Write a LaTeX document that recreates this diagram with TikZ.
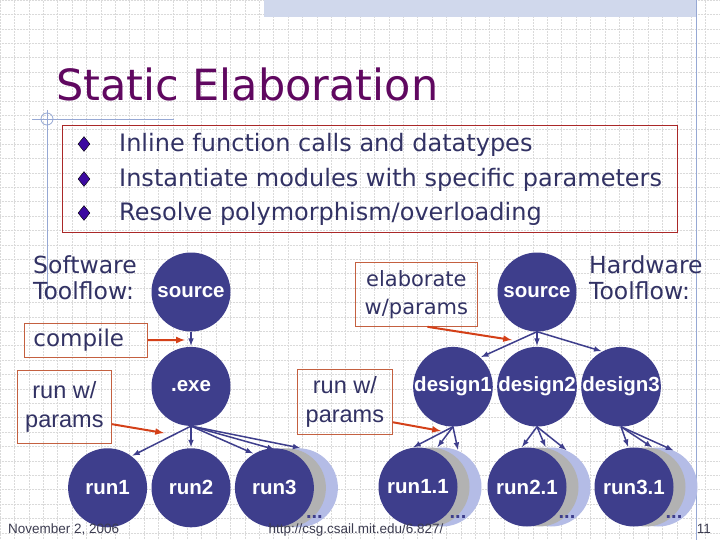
\documentclass[tikz,border=0pt]{standalone}
\usepackage{fontspec}
\setmainfont{DejaVu Sans}
\newfontfamily\arialfont{Liberation Sans}
\usepackage{xcolor}
\usetikzlibrary{arrows,shapes,positioning,backgrounds}

\definecolor{ballblue}{RGB}{62,62,140}
\definecolor{textblue}{RGB}{50,50,100}
\definecolor{titlepurple}{RGB}{96,8,96}
\definecolor{notebrown}{RGB}{196,96,64}
\definecolor{notered}{RGB}{170,40,40}
\definecolor{callout}{RGB}{212,64,24}
\definecolor{shgray}{RGB}{178,178,178}
\definecolor{shblue}{RGB}{180,188,230}
\definecolor{gridgray}{RGB}{218,218,218}
\definecolor{framebl}{RGB}{150,168,212}
\definecolor{bulletpurple}{RGB}{60,10,160}
\definecolor{footgray}{RGB}{60,60,80}

\begin{document}
\begin{tikzpicture}
          [x=1pt, y=-1pt, >=latex,
           every node/.style={inner sep=0pt},
           ball/.style={circle, fill=ballblue, minimum size=79pt, text=white,
             font=\arialfont\bfseries\fontsize{20.5}{21}\selectfont},
           ghost/.style={circle, minimum size=79pt},
           note/.style={draw=notebrown, line width=0.8pt, text=textblue},
           flow/.style={->, ballblue, line width=1.5pt, shorten >= 1pt},
           hint/.style={->, callout, line width=2pt},
           flowtxt/.style={text=textblue, align=left, font=\fontsize{23.5}{26}\selectfont},
           foot/.style={text=footgray, font=\arialfont\fontsize{13.5}{14}\selectfont}]
          \useasboundingbox (0,0) rectangle (720,540);

          \begin{scope}[on background layer]
            \fill[white] (0,0) rectangle (720,540);
            \draw[gridgray, densely dotted, line width=0.5pt, step=14.4pt] (0,540) grid (720,0);
            \fill[framebl!45] (264,0) rectangle (696,17);
            \draw[framebl, line width=0.8pt] (696,0) -- (696,540);
            \draw[framebl, line width=0.8pt] (32,119) -- (174,119) (47,110) -- (47,300);
            \draw[framebl, line width=0.8pt] (47,119) circle (6pt);
          \end{scope}

          \node[anchor=base west, text=titlepurple, font=\fontsize{43}{48}\selectfont] (title) at (56,101) {Static Elaboration};

          \node[draw=notered, line width=0.8pt, minimum width=615pt, minimum height=107pt, anchor=north west] (goals) at (62,125) {};
          \foreach \y/\txt [count=\i] in {152/{Inline function calls and datatypes},
                                          187/{Instantiate modules with specific parameters},
                                          221/{Resolve polymorphism/overloading}} {
            \node[diamond, draw=black, fill=bulletpurple, minimum width=12pt, minimum height=15pt] (dot\i) at (84,\y-8) {};
            \node[anchor=base west, text=textblue, font=\fontsize{24}{26}\selectfont] (goal\i) at (119,\y) {\txt};
          }

          % software toolflow
          \node[flowtxt, anchor=north west] (swflow) at (33,255) {Software\\Toolflow:};
          \node[ball] (src) at (191,292) {source};
          \node[ball, below=15pt of src] (exe) {.exe};
          \node[ball, below=22pt of exe] (run2) {run2};
          \node[ball, left=4pt of run2] (run1) {run1};
          \node[ball, right=4pt of run2] (run3) {run3};

          % hardware toolflow
          \node[flowtxt, anchor=north west] (hwflow) at (589,255) {Hardware\\Toolflow:};
          \node[ball] (hsrc) at (537,292) {source};
          \node[ball, below=15pt of hsrc] (des2) {design2};
          \node[ball, left=4pt of des2] (des1) {design1};
          \node[ball, right=4pt of des2] (des3) {design3};
          \node[ball] (hrun1) at (418,487) {run1.1};
          \node[ball] (hrun2) at (527,487) {run2.1};
          \node[ball] (hrun3) at (634,487) {run3.1};

          \begin{scope}[on background layer]
            \foreach \r in {run3,hrun1,hrun2,hrun3} {
              \node[ghost, fill=shblue] (\r-b) at ([xshift=24pt]\r.center) {};
              \node[ghost, fill=shgray] (\r-g) at ([xshift=12pt]\r.center) {};
            }
          \end{scope}
          \foreach \r in {run3,hrun1,hrun2,hrun3}
            \node[anchor=base, text=ballblue, font=\arialfont\bfseries\fontsize{20}{20}\selectfont] (\r-more) at ([xshift=40pt,yshift=-31pt]\r.center) {...};

          \draw[flow] (src) -- (exe);
          \draw[flow] (exe.south) -- (run1.53);
          \draw[flow] (exe.south) -- (run2);
          \draw[flow] (exe.south) -- (run3.121);
          \draw[flow] (exe.south) -- (run3-g.106);
          \draw[flow] (exe.south) -- (run3-b.86);

          \draw[flow] (hsrc.south) -- (des1.47);
          \draw[flow] (hsrc.south) -- (des2);
          \draw[flow] (hsrc.south) -- (des3.118);
          \foreach \d/\r in {des1/hrun1, des2/hrun2, des3/hrun3} {
            \draw[flow] (\d.south) -- (\r.98);
            \draw[flow] (\d.south) -- (\r-g.80);
            \draw[flow] (\d.south) -- (\r-b.66);
          }

          % callouts
          \node[note, minimum width=123pt, minimum height=34pt, text width=105pt, align=left, anchor=north west,
                font=\fontsize{23}{26}\selectfont] (compile) at (24,323) {compile};
          \node[note, minimum width=94pt, minimum height=73pt, align=center, anchor=north west,
                font=\arialfont\fontsize{23.5}{29}\selectfont] (runsw) at (17,370) {run w/\\params};
          \node[note, minimum width=95pt, minimum height=65pt, align=center, anchor=north west,
                font=\arialfont\fontsize{23.5}{29}\selectfont] (runhw) at (297,369) {run w/\\params};
          \node[note, minimum width=122pt, minimum height=64pt, align=center, anchor=north west,
                font=\fontsize{21}{28}\selectfont] (elab) at (355,262) {elaborate\\w/params};

          \coordinate (compile-tip) at (185,340);
          \coordinate (runsw-tip) at (164,433);
          \coordinate (runhw-tip) at (441,431);
          \coordinate (elab-tip) at (512,340);
          \draw[hint] (compile) -- (compile-tip);
          \draw[hint] (runsw.-20) -- (runsw-tip);
          \draw[hint] (runhw.-23) -- (runhw-tip);
          \draw[hint] ([xshift=11pt]elab.south) -- (elab-tip);

          % footer
          \node[foot, anchor=base west] (date) at (8,533) {November 2, 2006};
          \node[foot, anchor=base] (url) at (356,533) {http://csg.csail.mit.edu/6.827/};
          \node[foot, anchor=base east] (page) at (711,533) {11};
\end{tikzpicture}
\end{document}
